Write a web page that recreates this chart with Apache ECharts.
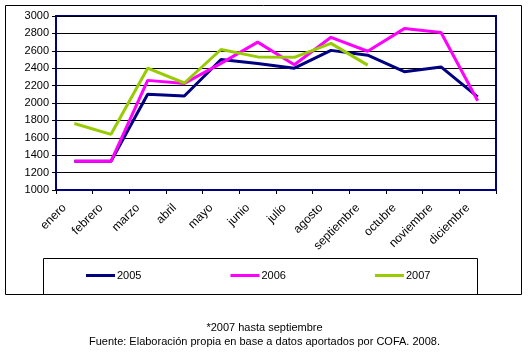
<!DOCTYPE html>
<html><head><meta charset="utf-8">
<script src="https://cdn.jsdelivr.net/npm/echarts@6/dist/echarts.min.js"></script>
<style>html,body{margin:0;padding:0;background:#fff}#c{width:529px;height:355px}</style>
</head><body><div id="c"></div>
<script>
const months = ['enero','febrero','marzo','abril','mayo','junio','julio','agosto','septiembre','octubre','noviembre','diciembre'];
const s2005 = [1330,1330,2100,2080,2500,2455,2400,2605,2550,2360,2415,2070];
const s2006 = [1330,1330,2260,2225,2455,2700,2440,2755,2595,2855,2810,2025];
const s2007 = [1765,1640,2400,2230,2615,2530,2525,2685,2435,null,null,null];
const yTicks = {min:1000, max:3000, interval:200};
const seriesNames = ['2005','2006','2007'];
const footnote1 = '*2007 hasta septiembre';
const footnote2 = 'Fuente: Elaboración propia en base a datos aportados por COFA. 2008.';

const font = 'Arial, "Liberation Sans", sans-serif';
const chart = echarts.init(document.getElementById('c'), null, {renderer:'canvas'});
const mk = (name, data, color) => ({
  name, type:'line', data, symbol:'none', smooth:false, connectNulls:false,
  lineStyle:{color, width:3}, itemStyle:{color}, animation:false
});
chart.setOption({
  animation:false,
  grid:{left:56, top:16, width:440, height:174, show:true, borderColor:'#000080', borderWidth:2, backgroundColor:'transparent', containLabel:false},
  xAxis:{type:'category', data:months, boundaryGap:true,
    axisLine:{show:true, lineStyle:{color:'#000080', width:2}},
    axisTick:{show:true, length:4, lineStyle:{color:'#000'}},
    axisLabel:{rotate:45, color:'#000', fontSize:12, fontFamily:font, margin:6, padding:[0,14,0,0]},
    splitLine:{show:false}},
  yAxis:{type:'value', min:yTicks.min, max:yTicks.max, interval:yTicks.interval,
    axisLine:{show:true, lineStyle:{color:'#000080', width:2}},
    axisTick:{show:true, length:4, lineStyle:{color:'#000'}},
    axisLabel:{color:'#000', fontSize:11, fontFamily:font, margin:7, formatter:v=>String(v)},
    splitLine:{show:true, lineStyle:{color:'#000', width:1}}},
  legend:{left:81, top:265, itemWidth:29, itemHeight:3, itemGap:89, icon:'rect',
    textStyle:{color:'#000', fontSize:11, fontFamily:font, padding:[0,0,0,-3]},
    data:seriesNames},
  graphic:[
    {type:'rect', shape:{x:5.5, y:5.5, width:516, height:289}, style:{fill:null, stroke:'#000', lineWidth:1}, z:-1},
    {type:'rect', shape:{x:43.5, y:258.5, width:434, height:36}, style:{fill:null, stroke:'#000', lineWidth:1}, z:-1},
    {type:'text', left:'center', top:322, style:{text:footnote1, fill:'#000', font:'11px '+font, textAlign:'center'}},
    {type:'text', left:'center', top:336, style:{text:footnote2, fill:'#000', font:'11px '+font, textAlign:'center'}}
  ],
  series:[mk(seriesNames[0], s2005, '#000080'), mk(seriesNames[1], s2006, '#FF00FF'), mk(seriesNames[2], s2007, '#99CC00')]
});
</script></body></html>
